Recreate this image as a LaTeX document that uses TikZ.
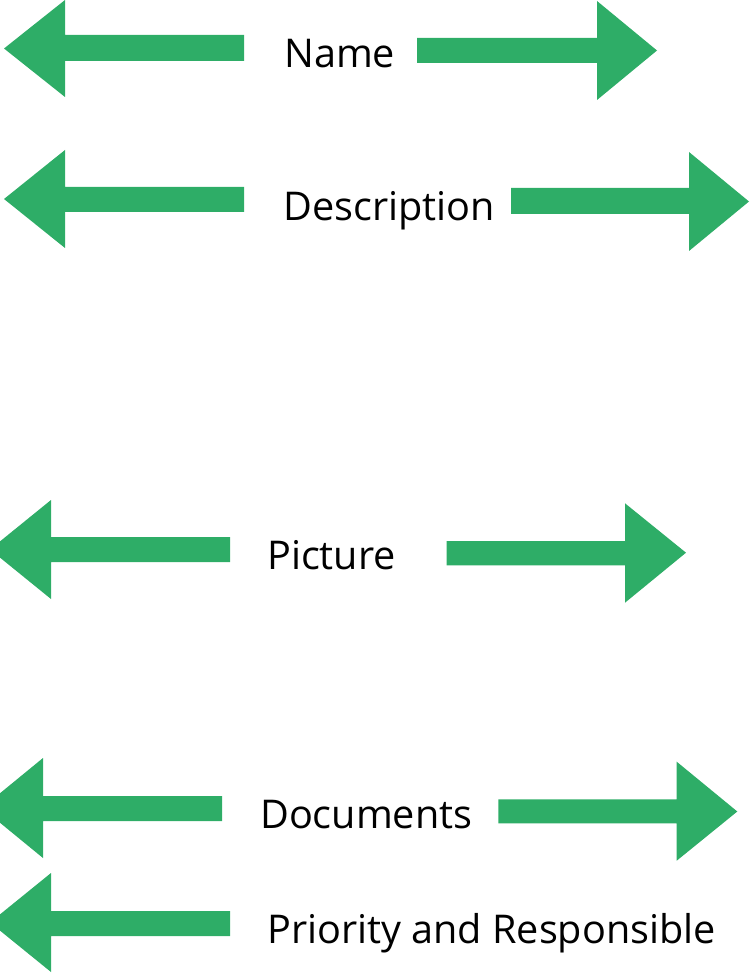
\documentclass[tikz,border=0pt]{standalone}
\usepackage{fontspec}
\setmainfont{Open Sans}[Ligatures=NoCommon]
\definecolor{hpgreen}{RGB}{46,173,103}
\tikzset{
  arrowfill/.style={fill=hpgreen, draw=none},
  label text/.style={font=\fontsize{39.6}{47}\selectfont, text=black, inner sep=0pt, anchor=base west}
}
\begin{document}
\begin{tikzpicture}[x=1pt,y=-1pt]
\useasboundingbox (0,0) rectangle (750,973);
\clip (0,0) rectangle (750,973);
% Name
\fill[arrowfill] (244,35) -- (65,35) -- (65,0) -- (4,48.5) -- (65,97) -- (65,61) -- (244,61) -- cycle;
\fill[arrowfill] (417,38) -- (597,38) -- (597,1) -- (657,50.5) -- (597,100) -- (597,63) -- (417,63) -- cycle;
\node[label text] (name) at (284,68) {Name};
% Description
\fill[arrowfill] (244,187) -- (65,187) -- (65,150) -- (4,199) -- (65,248) -- (65,212) -- (244,212) -- cycle;
\fill[arrowfill] (511,188) -- (689,188) -- (689,152) -- (749,201.5) -- (689,251) -- (689,214) -- (511,214) -- cycle;
\node[label text] (desc) at (283,221) {Description};
% Picture
\fill[arrowfill] (230,537) -- (51,537) -- (51,500) -- (-10,549.5) -- (51,599) -- (51,562) -- (230,562) -- cycle;
\fill[arrowfill] (446.5,541) -- (625,541) -- (625,503.3) -- (686,552.7) -- (625,602.7) -- (625,565.3) -- (446.5,565.3) -- cycle;
\node[label text] (pic) at (267,569) {Picture};
% Documents
\fill[arrowfill] (222,796) -- (43,796) -- (43,758) -- (-18,808) -- (43,858) -- (43,821) -- (222,821) -- cycle;
\fill[arrowfill] (498.3,799.3) -- (676.7,799.3) -- (676.7,761.7) -- (737.3,811.5) -- (676.7,860.7) -- (676.7,823.3) -- (498.3,823.3) -- cycle;
\node[label text] (docs) at (260,828) {Documents};
% Priority and Responsible
\fill[arrowfill] (230,911) -- (51,911) -- (51,873) -- (-10,922.5) -- (51,972) -- (51,936) -- (230,936) -- cycle;
\node[label text] (prio) at (267,943) {Priority and Responsible};
\end{tikzpicture}
\end{document}
